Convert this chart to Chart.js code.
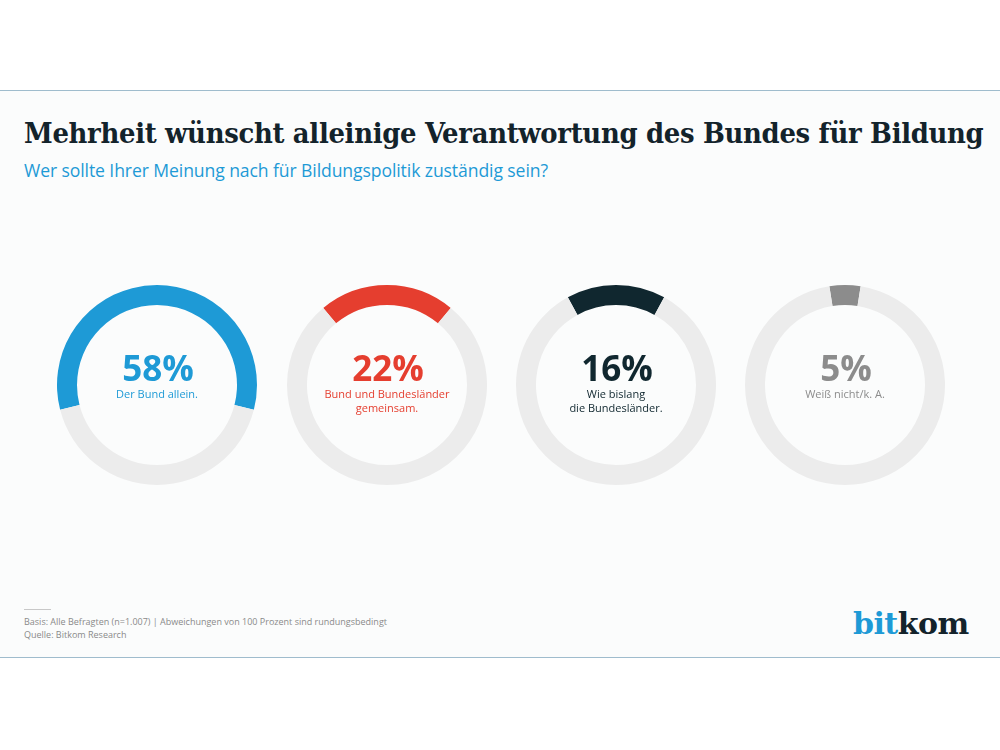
<!DOCTYPE html>
<html>
<head>
<meta charset="utf-8">
<script src="https://cdn.jsdelivr.net/npm/chart.js@4"></script>
<style>
  html, body { margin: 0; padding: 0; background: #fff; }
  body { width: 1000px; height: 750px; position: relative; overflow: hidden; font-family: "Open Sans", sans-serif; }
  .panel { position: absolute; left: 0; top: 90px; width: 1000px; height: 568px; background: #fbfcfc;
           border-top: 1px solid #9fbccd; border-bottom: 1px solid #9fbccd; box-sizing: border-box; }
  .title { position: absolute; left: 24px; top: 116px; font-family: "DejaVu Serif Condensed", "DejaVu Serif", serif;
           font-weight: bold; font-size: 28.8px; color: #13232b; white-space: nowrap; letter-spacing: -0.3px; }
  .subtitle { position: absolute; left: 24px; top: 158px; font-family: "Open Sans", sans-serif;
              font-size: 17.6px; color: #1e9ad6; white-space: nowrap; letter-spacing: -0.1px; }
  .ring { position: absolute; width: 200px; height: 200px; }
  .note-line { position: absolute; left: 24px; top: 609px; width: 27px; height: 1px; background: #c8c8c8; }
  .note { position: absolute; left: 24px; top: 616px; font-size: 9px; line-height: 12.5px; color: #8a8a8a; white-space: nowrap; }
  .logo { position: absolute; left: 853px; top: 606px; font-family: "DejaVu Serif", serif; font-weight: bold; font-size: 30px;
          letter-spacing: -0.5px; color: #13232b; }
  .logo span { color: #1e9ad6; }
</style>
</head>
<body>
<div class="panel"></div>
<div class="title">Mehrheit wünscht alleinige Verantwortung des Bundes für Bildung</div>
<div class="subtitle">Wer sollte Ihrer Meinung nach für Bildungspolitik zuständig sein?</div>

<canvas id="c0" class="ring" width="200" height="200" style="left:57px; top:285px;"></canvas>
<canvas id="c1" class="ring" width="200" height="200" style="left:287px; top:285px;"></canvas>
<canvas id="c2" class="ring" width="200" height="200" style="left:516px; top:285px;"></canvas>
<canvas id="c3" class="ring" width="200" height="200" style="left:745px; top:285px;"></canvas>

<div class="note-line"></div>
<div class="note">Basis: Alle Befragten (n=1.007) | Abweichungen von 100 Prozent sind rundungsbedingt<br>Quelle: Bitkom Research</div>
<div class="logo"><span>bit</span>kom</div>

<script>
// values
const answers = [["Der Bund allein."], ["Bund und Bundesländer", "gemeinsam."], ["Wie bislang", "die Bundesländer."], ["Weiß nicht/k. A."]];
const shares = [58, 22, 16, 5];
const colors = ['#1e9ad6', '#e53e2f', '#10272f', '#8c8c8c'];
const trackColor = '#ececec';

// draws the percentage and answer text in the middle of each ring
const centerText = {
    id: 'centerText',
    afterDraw(chart, args, opts) {
        const { ctx } = chart;
        const meta = chart.getDatasetMeta(0).data[0];
        const x = meta.x, y = meta.y;
        ctx.save();
        ctx.fillStyle = opts.color;
        ctx.textAlign = 'center';
        ctx.textBaseline = 'alphabetic';
        ctx.font = 'bold 35px "Open Sans", sans-serif';
        ctx.fillText(opts.value + '%', x + 1, y - 4);
        ctx.font = '11px "Open Sans", sans-serif';
        opts.lines.forEach((line, i) => ctx.fillText(line, x, y + 13 + i * 14));
        ctx.restore();
    }
};

shares.forEach((value, i) => {
    new Chart(document.getElementById('c' + i), {
        type: 'doughnut',
        data: {
            labels: [answers[i].join(' '), 'Rest'],
            datasets: [{
                data: [value, 100 - value],
                backgroundColor: [colors[i], trackColor],
                borderWidth: 0
            }]
        },
        options: {
            responsive: false,
            animation: false,
            cutout: '80%',
            rotation: -value * 1.8, // centre the arc on 12 o'clock
            events: [],
            plugins: {
                legend: { display: false },
                tooltip: { enabled: false },
                centerText: { value: value, lines: answers[i], color: colors[i] }
            }
        },
        plugins: [centerText]
    });
});
</script>
</body>
</html>
